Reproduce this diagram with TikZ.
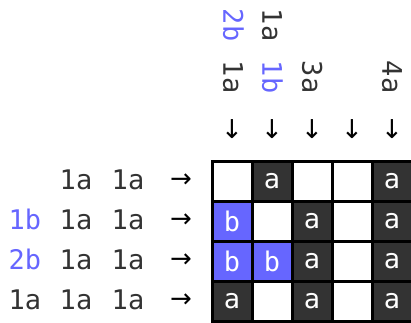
\documentclass[tikz,border=0pt]{standalone}
\usepackage{fontspec}
\setmonofont{DejaVu Sans Mono}
\newfontfamily\arrowfamily{DejaVu Sans}
\usetikzlibrary{positioning}
\definecolor{clueblue}{RGB}{102,102,255}
\definecolor{darkcell}{RGB}{51,51,51}
\definecolor{cluegray}{RGB}{51,51,51}
\newcommand{\gridfont}{\ttfamily\fontsize{27}{32}\selectfont}
\newcommand{\arrowfont}{\arrowfamily\fontsize{26}{32}\selectfont}

\begin{document}
\begin{tikzpicture}[
    x=1pt, y=-1pt,
    node distance=0pt,
    cell/.style={rectangle, draw=black, line width=3pt, fill=white, minimum size=40pt,
        inner sep=0pt, outer sep=0pt, font=\gridfont, text=white},
    acell/.style={cell, fill=darkcell},
    bcell/.style={cell, fill=clueblue},
    clue/.style={inner sep=0pt, font=\gridfont, text=cluegray, text height=19.5pt, text depth=0pt},
    blueclue/.style={clue, text=clueblue},
    colclue/.style={clue, rotate=-90},
    bluecolclue/.style={blueclue, rotate=-90},
    arrowmark/.style={inner sep=0pt, font=\arrowfont, text=black}
]
    \useasboundingbox (0,0) rectangle (411,322);

    % column clues
    \node[bluecolclue] (h1a) at (233,25) {2b};
    \node[colclue]     (h1b) at (233,77) {1a};
    \node[colclue]     (h2a) at (272,25) {1a};
    \node[bluecolclue] (h2b) at (272,77) {1b};
    \node[colclue]     (h3b) at (312,77) {3a};
    \node[colclue]     (h5b) at (392,77) {4a};

    \node[arrowmark] (down1) at (232,129) {↓};
    \node[arrowmark] (down2) at (272,129) {↓};
    \node[arrowmark] (down3) at (312,129) {↓};
    \node[arrowmark] (down4) at (352,129) {↓};
    \node[arrowmark] (down5) at (392,129) {↓};

    % row clues
    \node[clue]      (r1b) at (76,180)  {1a};
    \node[clue]      (r1c) at (128,180) {1a};
    \node[blueclue]  (r2a) at (25,220)  {1b};
    \node[clue]      (r2b) at (76,220)  {1a};
    \node[clue]      (r2c) at (128,220) {1a};
    \node[blueclue]  (r3a) at (25,260)  {2b};
    \node[clue]      (r3b) at (76,260)  {1a};
    \node[clue]      (r3c) at (128,260) {1a};
    \node[clue]      (r4a) at (25,300)  {1a};
    \node[clue]      (r4b) at (76,300)  {1a};
    \node[clue]      (r4c) at (128,300) {1a};

    \node[arrowmark] (right1) at (181,181) {→};
    \node[arrowmark] (right2) at (181,221) {→};
    \node[arrowmark] (right3) at (181,261) {→};
    \node[arrowmark] (right4) at (181,301) {→};

    % grid
    \node[cell]  (c11) at (232,181) {};
    \node[acell, right=of c11] (c12) {a};
    \node[cell,  right=of c12] (c13) {};
    \node[cell,  right=of c13] (c14) {};
    \node[acell, right=of c14] (c15) {a};

    \node[bcell, below=of c11] (c21) {b};
    \node[cell,  right=of c21] (c22) {};
    \node[acell, right=of c22] (c23) {a};
    \node[cell,  right=of c23] (c24) {};
    \node[acell, right=of c24] (c25) {a};

    \node[bcell, below=of c21] (c31) {b};
    \node[bcell, right=of c31] (c32) {b};
    \node[acell, right=of c32] (c33) {a};
    \node[cell,  right=of c33] (c34) {};
    \node[acell, right=of c34] (c35) {a};

    \node[acell, below=of c31] (c41) {a};
    \node[cell,  right=of c41] (c42) {};
    \node[acell, right=of c42] (c43) {a};
    \node[cell,  right=of c43] (c44) {};
    \node[acell, right=of c44] (c45) {a};
\end{tikzpicture}
\end{document}
